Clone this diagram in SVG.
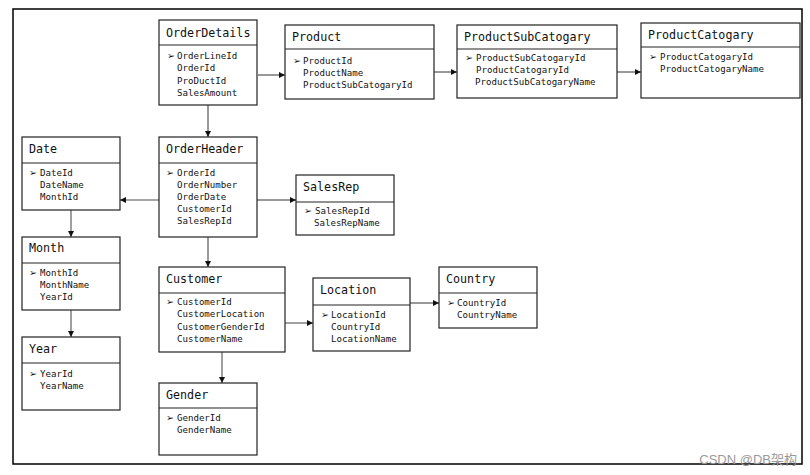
<svg xmlns="http://www.w3.org/2000/svg" width="810" height="475" viewBox="0 0 810 475">
<style>
.box{fill:#fff;stroke:#222;stroke-width:1.2}
.div{stroke:#222;stroke-width:1.2}
.t{font-family:"DejaVu Sans Mono","Liberation Mono",monospace;font-size:11.7px;fill:#111}
.f{font-family:"DejaVu Sans Mono","Liberation Mono",monospace;font-size:9.1px;fill:#111}
.b{font-family:"DejaVu Sans","Noto Sans",sans-serif;font-size:9.5px;fill:#111}
.c{fill:none;stroke:#333;stroke-width:1}
.g{fill:none;stroke:#888;stroke-width:1.6}
.wm{font-family:"Liberation Sans","Noto Sans CJK SC",sans-serif;font-size:13px;fill:#9a9a9a}
</style>
<defs>
<marker id="a" viewBox="0 0 8 8" refX="8" refY="4" markerWidth="6" markerHeight="6" markerUnits="userSpaceOnUse" orient="auto">
<path d="M0,0L8,4L0,8z" fill="#111"/>
</marker>
</defs>
<rect x="0" y="0" width="810" height="475" fill="#fff"/>
<path d="M13,9H802V464H13z" fill="none" stroke="#000" stroke-width="1.5"/>

<g id="connectors">
<path class="c" d="M258,75H285" marker-end="url(#a)"/>
<path class="c" d="M434,72H457" marker-end="url(#a)"/>
<path class="c" d="M617,72H641" marker-end="url(#a)"/>
<path class="c" d="M208,105V137" marker-end="url(#a)"/>
<path class="g" d="M159,200H120" marker-end="url(#a)"/>
<path class="c" d="M257,200H296" marker-end="url(#a)"/>
<path class="g" d="M71,210V237" marker-end="url(#a)"/>
<path class="c" d="M208,237V267" marker-end="url(#a)"/>
<path class="g" d="M71,310V337" marker-end="url(#a)"/>
<path class="g" d="M285,323H313" marker-end="url(#a)"/>
<path class="c" d="M410,303H439" marker-end="url(#a)"/>
<path class="g" d="M222,352V383" marker-end="url(#a)"/>
</g>

<g id="OrderDetails">
<rect class="box" x="159" y="20" width="98" height="85"/>
<path class="div" d="M159,45H257"/>
<text class="t" x="166" y="37">OrderDetails</text>
<text class="b" x="167" y="59">➢</text>
<text class="f" x="177" y="59">OrderLineId</text>
<text class="f" x="177" y="71">OrderId</text>
<text class="f" x="177" y="83.5">ProDuctId</text>
<text class="f" x="177" y="95.5">SalesAmount</text>
</g>

<g id="Product">
<rect class="box" x="285" y="25" width="149" height="74"/>
<path class="div" d="M285,49H434"/>
<text class="t" x="292" y="41">Product</text>
<text class="b" x="293" y="64">➢</text>
<text class="f" x="303" y="64">ProductId</text>
<text class="f" x="303" y="76">ProductName</text>
<text class="f" x="303" y="88">ProductSubCatogaryId</text>
</g>

<g id="ProductSubCatogary">
<rect class="box" x="457" y="25" width="160" height="73"/>
<path class="div" d="M457,49H617"/>
<text class="t" x="464" y="41">ProductSubCatogary</text>
<text class="b" x="465" y="61">➢</text>
<text class="f" x="476" y="61">ProductSubCatogaryId</text>
<text class="f" x="476" y="73">ProductCatogaryId</text>
<text class="f" x="475" y="85">ProductSubCatogaryName</text>
</g>

<g id="ProductCatogary">
<rect class="box" x="641" y="23" width="159" height="75"/>
<path class="div" d="M641,47H800"/>
<text class="t" x="648" y="39">ProductCatogary</text>
<text class="b" x="649" y="60">➢</text>
<text class="f" x="660" y="60">ProductCatogaryId</text>
<text class="f" x="660" y="72">ProductCatogaryName</text>
</g>

<g id="Date">
<rect class="box" x="22" y="137" width="98" height="73"/>
<path class="div" d="M22,163H120"/>
<text class="t" x="29" y="153">Date</text>
<text class="b" x="29" y="176">➢</text>
<text class="f" x="40" y="176">DateId</text>
<text class="f" x="40" y="188">DateName</text>
<text class="f" x="40" y="200">MonthId</text>
</g>

<g id="OrderHeader">
<rect class="box" x="159" y="137" width="98" height="100"/>
<path class="div" d="M159,163H257"/>
<text class="t" x="166" y="153">OrderHeader</text>
<text class="b" x="166" y="176">➢</text>
<text class="f" x="177" y="176">OrderId</text>
<text class="f" x="177" y="188">OrderNumber</text>
<text class="f" x="177" y="200">OrderDate</text>
<text class="f" x="177" y="212">CustomerId</text>
<text class="f" x="177" y="224">SalesRepId</text>
</g>

<g id="SalesRep">
<rect class="box" x="296" y="175" width="98" height="60"/>
<path class="div" d="M296,202H394"/>
<text class="t" x="303" y="191">SalesRep</text>
<text class="b" x="304" y="214">➢</text>
<text class="f" x="315" y="214">SalesRepId</text>
<text class="f" x="314" y="226">SalesRepName</text>
</g>

<g id="Month">
<rect class="box" x="22" y="237" width="98" height="73"/>
<path class="div" d="M22,263H120"/>
<text class="t" x="29" y="252">Month</text>
<text class="b" x="29" y="276">➢</text>
<text class="f" x="40" y="276">MonthId</text>
<text class="f" x="40" y="288">MonthName</text>
<text class="f" x="40" y="300">YearId</text>
</g>

<g id="Year">
<rect class="box" x="22" y="337" width="98" height="73"/>
<path class="div" d="M22,363H120"/>
<text class="t" x="29" y="353">Year</text>
<text class="b" x="29" y="377">➢</text>
<text class="f" x="40" y="377">YearId</text>
<text class="f" x="40" y="389">YearName</text>
</g>

<g id="Customer">
<rect class="box" x="159" y="267" width="126" height="85"/>
<path class="div" d="M159,293H285"/>
<text class="t" x="166" y="283">Customer</text>
<text class="b" x="166" y="305">➢</text>
<text class="f" x="177" y="305">CustomerId</text>
<text class="f" x="177" y="317">CustomerLocation</text>
<text class="f" x="177" y="329.5">CustomerGenderId</text>
<text class="f" x="177" y="342">CustomerName</text>
</g>

<g id="Gender">
<rect class="box" x="159" y="383" width="98" height="72"/>
<path class="div" d="M159,408H257"/>
<text class="t" x="166" y="399">Gender</text>
<text class="b" x="166" y="421">➢</text>
<text class="f" x="177" y="421">GenderId</text>
<text class="f" x="177" y="433">GenderName</text>
</g>

<g id="Location">
<rect class="box" x="313" y="278" width="97" height="73"/>
<path class="div" d="M313,305H410"/>
<text class="t" x="320" y="294">Location</text>
<text class="b" x="321" y="318">➢</text>
<text class="f" x="331" y="318">LocationId</text>
<text class="f" x="331" y="330">CountryId</text>
<text class="f" x="331" y="342">LocationName</text>
</g>

<g id="Country">
<rect class="box" x="439" y="267" width="98" height="61"/>
<path class="div" d="M439,293H537"/>
<text class="t" x="446" y="283">Country</text>
<text class="b" x="447" y="306">➢</text>
<text class="f" x="457" y="306">CountryId</text>
<text class="f" x="457" y="318">CountryName</text>
</g>

<text class="wm" x="797" y="464" text-anchor="end">CSDN @DB架构</text>
</svg>
